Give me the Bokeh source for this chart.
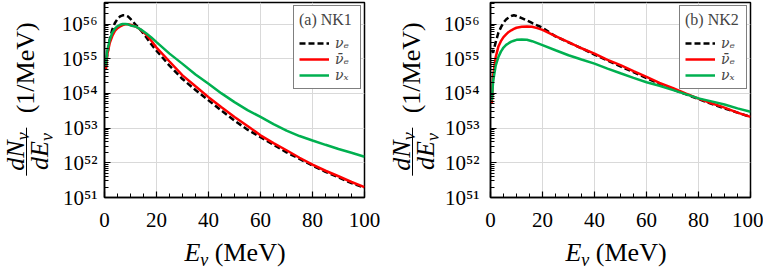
import math
from bokeh.plotting import figure
from bokeh.layouts import row, column
from bokeh.models import (Range1d, SingleIntervalTicker, LogTicker, CustomJSTickFormatter,
                          Legend, LegendItem, Div)
from bokeh.embed import file_html
from bokeh.resources import INLINE

# ---------------- data ----------------
ENERGY = [0.5, 1, 2, 3, 4, 5, 6, 7, 8, 9, 10, 12, 14, 16, 18, 20,
          25, 30, 35, 40, 45, 50, 55, 60, 65, 70, 75, 80, 85, 90, 95, 100]

NK1_NUE = [5.0e54, 1.2e55, 3.5e55, 7.0e55, 1.07e56, 1.4e56, 1.65e56, 1.78e56, 1.78e56, 1.65e56,
           1.4e56, 9.5e55, 6.6e55, 4.2e55, 2.6e55, 1.7e55, 6.3e54, 2.6e54, 1.25e54, 6.3e53,
           3.2e53, 1.65e53, 9.0e52, 5.5e52, 3.3e52, 2.0e52, 1.3e52, 8.3e51, 5.5e51, 3.8e51,
           2.6e51, 1.9e51]
NK1_NUEBAR = [5.0e54, 1.25e55, 2.8e55, 4.5e55, 6.3e55, 7.6e55, 8.5e55, 9.3e55, 9.8e55, 9.8e55,
              9.5e55, 8.5e55, 6.8e55, 5.0e55, 3.3e55, 2.1e55, 8.3e54, 3.3e54, 1.6e54, 7.8e53,
              4.0e53, 2.1e53, 1.15e53, 6.2e52, 3.7e52, 2.3e52, 1.4e52, 8.9e51, 5.9e51, 4.1e51,
              2.8e51, 2.0e51]
NK1_NUX = [6.3e54, 1.6e55, 3.5e55, 5.6e55, 7.4e55, 8.7e55, 9.5e55, 1.0e56, 1.0e56, 9.8e55,
           9.1e55, 8.5e55, 6.9e55, 5.4e55, 4.1e55, 3.0e55, 1.4e55, 7.1e54, 3.5e54, 1.9e54,
           1.0e54, 5.6e53, 3.3e53, 2.1e53, 1.3e53, 8.5e52, 5.9e52, 4.4e52, 3.3e52, 2.5e52,
           1.95e52, 1.5e52]

NK2_NUE = [1.8e55, 1.5e55, 3.0e55, 5.5e55, 8.0e55, 1.1e56, 1.35e56, 1.55e56, 1.7e56, 1.78e56,
           1.7e56, 1.48e56, 1.26e56, 1.07e56, 9.1e55, 7.8e55, 4.4e55, 2.95e55, 2.0e55, 1.32e55,
           8.9e54, 6.0e54, 4.1e54, 2.75e54, 1.9e54, 1.32e54, 9.5e53, 6.9e53, 5.0e53, 3.7e53,
           2.8e53, 2.1e53]
NK2_NUEBAR = [5.0e53, 3.2e54, 1.1e55, 2.2e55, 3.2e55, 4.2e55, 5.0e55, 5.9e55, 6.6e55, 7.2e55,
              7.8e55, 8.3e55, 8.5e55, 8.3e55, 7.6e55, 6.8e55, 4.5e55, 3.0e55, 2.0e55, 1.4e55,
              9.3e54, 6.5e54, 4.4e54, 3.0e54, 2.0e54, 1.45e54, 1.0e54, 7.1e53, 5.2e53, 3.9e53,
              2.8e53, 2.1e53]
NK2_NUX = [6.3e53, 2.2e54, 6.3e54, 1.1e55, 1.6e55, 2.1e55, 2.5e55, 2.8e55, 3.1e55, 3.3e55,
           3.5e55, 3.55e55, 3.5e55, 3.2e55, 2.8e55, 2.45e55, 1.75e55, 1.26e55, 9.5e54, 7.2e54,
           5.2e54, 3.8e54, 2.8e54, 2.1e54, 1.66e54, 1.26e54, 9.5e53, 7.2e53, 5.9e53, 4.8e53,
           3.7e53, 2.95e53]

PANEL_TITLES = ["(a) NK1", "(b) NK2"]
LEGEND_LABELS = ["νₑ", "ν̄ₑ", "νₓ"]
Y_TICK_EXPONENTS = [51, 52, 53, 54, 55, 56]
Y_TICK_LABELS = ["10⁵¹", "10⁵²", "10⁵³", "10⁵⁴", "10⁵⁵", "10⁵⁶"]
X_TICK_INTERVAL = 20

# ---------------- layout / style ----------------
SERIF = "Liberation Serif"
LEGEND_FONT = "DejaVu Serif"
FRAME_W, FRAME_H = 260, 195
BORDER_TOP, BORDER_BOTTOM = 2, 43
FIG_H = BORDER_TOP + FRAME_H + BORDER_BOTTOM
YLAB_W = 52
AXIS_W = 52
XLAB_H = 31
X_MIN, X_MAX = 0, 100
Y_MIN, Y_MAX = 1e51, 10 ** 56.62

COL_NUE = "black"
COL_NUEBAR = "#ff0000"
COL_NUX = "#00b050"

TEXT_CSS = ("white-space:nowrap;font-family:Liberation Serif,serif;font-size:26px;"
            "line-height:1;color:#000;")
SUB_CSS = "font-size:18px;font-style:italic;position:relative;top:5px;"
ROW_CSS = "display:block;height:20px;line-height:20px;padding-left:5px;padding-right:5px;"


def y_label_div(cx, cy):
    frac = (
        '<span style="display:inline-block;vertical-align:middle;text-align:center;">'
        f'<span style="{ROW_CSS}padding-bottom:2px;"><i>dN</i><span style="{SUB_CSS}">ν</span></span>'
        f'<span style="{ROW_CSS}border-top:1.5px solid #000;padding-top:3px;"><i>dE</i><span style="{SUB_CSS}">ν</span></span>'
        '</span>'
    )
    html = (
        f'<div style="position:relative;width:{YLAB_W}px;height:{FIG_H}px;">'
        f'<div style="position:absolute;left:{cx}px;top:{cy}px;transform:translate(-50%,-50%) rotate(-90deg);{TEXT_CSS}">'
        f'{frac}<span style="vertical-align:middle;margin-left:14px;">(1/MeV)</span></div></div>'
    )
    return Div(text=html, width=YLAB_W, height=FIG_H, margin=0)


def x_label_div(width, cx, cy):
    html = (
        f'<div style="position:relative;width:{width}px;height:{XLAB_H}px;">'
        f'<div style="position:absolute;left:{cx}px;top:{cy}px;transform:translate(-50%,-50%);{TEXT_CSS}">'
        f'<i>E</i><span style="{SUB_CSS}">ν</span> (MeV)</div></div>'
    )
    return Div(text=html, width=width, height=XLAB_H, margin=0)


def make_panel(title, nue, nuebar, nux, border_right, ytick_standoff):
    p = figure(width=AXIS_W + FRAME_W + border_right, height=FIG_H,
               y_axis_type="log", x_range=Range1d(X_MIN, X_MAX), y_range=Range1d(Y_MIN, Y_MAX),
               output_backend="svg", toolbar_location=None,
               min_border_left=AXIS_W, min_border_right=border_right,
               min_border_top=BORDER_TOP, min_border_bottom=BORDER_BOTTOM, margin=0)
    p.background_fill_color = "white"
    p.border_fill_color = "white"
    p.outline_line_color = "black"
    p.outline_line_width = 1.5

    p.xgrid.grid_line_color = "#d9d9d9"
    p.ygrid.grid_line_color = "#d9d9d9"

    p.xaxis.ticker = SingleIntervalTicker(interval=X_TICK_INTERVAL, num_minor_ticks=4)
    p.yaxis.ticker = LogTicker(mantissas=[1], num_minor_ticks=10)
    p.yaxis.formatter = CustomJSTickFormatter(
        args=dict(exps=Y_TICK_EXPONENTS, labels=Y_TICK_LABELS),
        code="const e = Math.round(Math.log10(tick)); const i = exps.indexOf(e); return i >= 0 ? labels[i] : '';")

    for ax in (p.xaxis[0], p.yaxis[0]):
        ax.axis_line_color = "black"
        ax.axis_line_width = 1.5
        ax.major_tick_line_color = "black"
        ax.minor_tick_line_color = "black"
        ax.major_tick_line_width = 1.2
        ax.minor_tick_line_width = 1
        ax.major_tick_in = 6
        ax.major_tick_out = 0
        ax.minor_tick_in = 4
        ax.minor_tick_out = 0
        ax.major_label_text_font = SERIF
        ax.major_label_text_font_size = "21px"
        ax.major_label_text_color = "black"
    p.xaxis.major_label_standoff = 15
    p.yaxis.major_label_standoff = ytick_standoff

    r1 = p.line(ENERGY, nue, line_color=COL_NUE, line_width=2.5, line_dash="6 3")
    r2 = p.line(ENERGY, nuebar, line_color=COL_NUEBAR, line_width=2.5)
    r3 = p.line(ENERGY, nux, line_color=COL_NUX, line_width=2.5)

    legend = Legend(items=[LegendItem(label=LEGEND_LABELS[0], renderers=[r1]),
                           LegendItem(label=LEGEND_LABELS[1], renderers=[r2]),
                           LegendItem(label=LEGEND_LABELS[2], renderers=[r3])],
                    title=title, location="top_right")
    legend.margin = 3
    legend.padding = 5
    legend.spacing = 0
    legend.border_line_color = "black"
    legend.border_line_width = 1
    legend.background_fill_color = "white"
    legend.background_fill_alpha = 1
    legend.title_text_font = SERIF
    legend.title_text_font_size = "16px"
    legend.title_text_font_style = "normal"
    legend.title_standoff = 6
    legend.label_text_font = LEGEND_FONT
    legend.label_text_font_style = "italic"
    legend.label_text_font_size = "14px"
    legend.label_height = 12
    legend.glyph_height = 12
    legend.glyph_width = 30
    legend.label_standoff = 6
    p.add_layout(legend)
    return p


BR1, BR2 = 22, 13
p1 = make_panel(PANEL_TITLES[0], NK1_NUE, NK1_NUEBAR, NK1_NUX, BR1, 7)
p2 = make_panel(PANEL_TITLES[1], NK2_NUE, NK2_NUEBAR, NK2_NUX, BR2, 11)

block1 = column(row(y_label_div(26, 99), p1, margin=0, spacing=0),
                x_label_div(YLAB_W + AXIS_W + FRAME_W + BR1, 235, 13), margin=0, spacing=0)
block2 = column(row(y_label_div(26, 99), p2, margin=0, spacing=0),
                x_label_div(YLAB_W + AXIS_W + FRAME_W + BR2, 230, 13), margin=0, spacing=0)
layout = row(block1, block2, margin=0, spacing=0)

open("out.html", "w").write(file_html(layout, INLINE))
